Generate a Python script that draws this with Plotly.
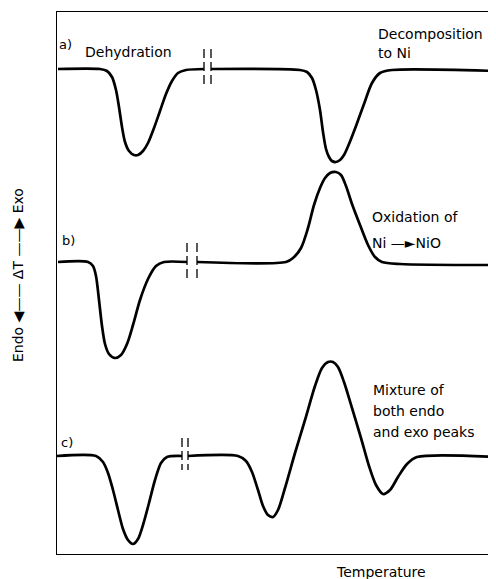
import plotly.graph_objects as go

# Schematic DTA curves (x: temperature, arbitrary units; y: signal, arbitrary units, drawn on a reversed axis)
# curve a) dehydration + decomposition to Ni
a1_T = [58, 100, 107, 112, 116, 119, 122, 125, 129, 134, 138, 143, 148, 154, 160, 166, 172, 178, 186, 204]
a1_S = [69, 69, 71, 77, 90, 107, 127, 142, 151, 155, 155, 151, 143, 128, 111, 94, 81, 73, 70, 69]
a2_T = [211, 300, 307, 312, 316, 320, 323, 326, 329, 332, 336, 340, 344, 349, 356, 364, 372, 380, 392, 496]
a2_S = [69, 70, 72, 78, 90, 110, 132, 149, 157, 161, 162, 160, 155, 144, 126, 104, 83, 73, 70, 71]

# curve b) dehydration + oxidation Ni -> NiO
b1_T = [58, 88, 93, 96, 99, 102, 105, 109, 115, 121, 127, 133, 140, 148, 156, 164, 187]
b1_S = [262, 262, 266, 276, 300, 326, 344, 354, 358, 355, 344, 325, 300, 279, 266, 262, 262]
b2_T = [197, 286, 293, 301, 308, 314, 320, 325, 330, 336, 341, 346, 352, 360, 368, 375, 382, 400, 496]
b2_S = [262, 262, 258, 248, 228, 205, 188, 178, 173, 172, 175, 186, 204, 225, 245, 257, 262, 264, 265]

# curve c) mixture of endo and exo peaks
c1_T = [57, 96, 103, 108, 113, 118, 123, 128, 133, 138, 143, 149, 155, 161, 167, 182]
c1_S = [456, 456, 462, 473, 490, 510, 529, 540, 544, 539, 525, 503, 480, 463, 457, 456]
c2_T = [188, 238, 246, 252, 258, 263, 268, 273, 278, 285, 295, 305, 315, 322, 328, 333, 338, 344, 352, 361, 369, 376, 383, 390, 398, 407, 417, 496]
c2_S = [456, 456, 461, 472, 490, 506, 515, 517, 510, 488, 453, 420, 386, 368, 362, 362, 367, 382, 408, 438, 466, 485, 494, 490, 477, 464, 457, 457]

# axis break marks (temperature positions, signal span)
break_a_T = [204, 211]
break_a_S = [49, 88]
break_b_T = [187, 197]
break_b_S = [243, 279]
break_c_T = [182, 188]
break_c_S = [438, 470]

fig = go.Figure()

curves = [(a1_T, a1_S), (a2_T, a2_S), (b1_T, b1_S), (b2_T, b2_S), (c1_T, c1_S), (c2_T, c2_S)]
for t, s in curves:
    fig.add_trace(go.Scatter(x=t, y=s, mode="lines",
                             line=dict(color="black", width=2.7, shape="spline", smoothing=0.8),
                             hoverinfo="skip", showlegend=False))

for bt, bs in [(break_a_T, break_a_S), (break_b_T, break_b_S), (break_c_T, break_c_S)]:
    for xv in bt:
        fig.add_trace(go.Scatter(x=[xv, xv], y=bs, mode="lines",
                                 line=dict(color="black", width=1.3, dash="9px,4px"),
                                 hoverinfo="skip", showlegend=False))

FONT = "DejaVu Sans"
labels = [
    ("a)", 58, 44, 13), ("Dehydration", 84, 52, 14),
    ("Decomposition", 377, 34, 14), ("to Ni", 377, 53, 14),
    ("b)", 61, 240, 13),
    ("Oxidation of", 371, 217, 14), ("Ni \u2014\u25BANiO", 371, 243, 14),
    ("c)", 60, 442, 13),
    ("Mixture of", 372, 390, 14), ("both endo", 372, 411, 14), ("and exo peaks", 372, 432, 14),
]
for txt, x, y, sz in labels:
    fig.add_annotation(x=x, y=y, xref="x", yref="y", text=txt, showarrow=False,
                       xanchor="left", yanchor="middle", borderpad=0,
                       font=dict(family=FONT, size=sz, color="black"))

# page body has an 8px margin; plot area spans window x 57..496, y 12..554
fig.add_annotation(x=(381 - 57) / 439, y=(554 - 572) / 542, xref="paper", yref="paper",
                   text="Temperature", showarrow=False,
                   xanchor="center", yanchor="middle",
                   font=dict(family=FONT, size=14, color="black"))
fig.add_annotation(x=(18 - 57) / 439, y=(554 - 275) / 542, xref="paper", yref="paper",
                   text="Endo \u25C0\u2014\u2014 \u0394T \u2014\u2014\u25B6 Exo",
                   showarrow=False, textangle=-90, xanchor="center", yanchor="middle",
                   font=dict(family=FONT, size=14, color="black"))

fig.update_layout(
    width=488, height=571,
    margin=dict(l=49, r=0, t=4, b=25, pad=0),
    paper_bgcolor="white", plot_bgcolor="white",
    xaxis=dict(range=[57, 496], showgrid=False, zeroline=False, showticklabels=False,
               ticks="", showline=True, linecolor="black", linewidth=1.2, mirror=True),
    yaxis=dict(range=[554, 12], showgrid=False, zeroline=False, showticklabels=False,
               ticks="", showline=True, linecolor="black", linewidth=1.2),
)

fig.write_html("out.html")
